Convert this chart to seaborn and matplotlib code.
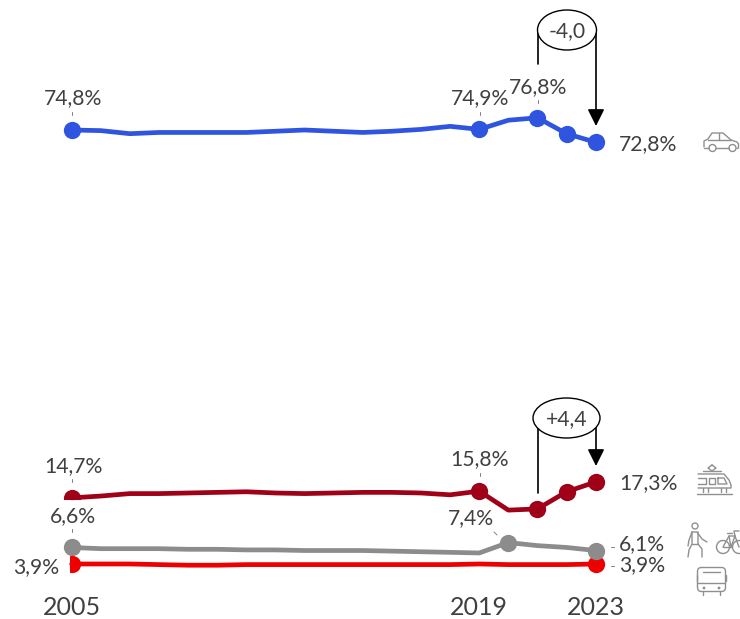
import numpy as np
import pandas as pd
import matplotlib
matplotlib.use('Agg')
import matplotlib.pyplot as plt
import matplotlib.patches as mpatches
from matplotlib.transforms import Affine2D
import seaborn as sns

years = list(range(2005, 2024))
car = [74.8, 74.7, 74.2, 74.4, 74.4, 74.4, 74.4, 74.6, 74.8, 74.6, 74.4, 74.6, 74.9, 75.4, 74.9, 76.4, 76.8, 74.2, 72.8]
rail = [14.7, 15.0, 15.4, 15.4, 15.5, 15.6, 15.7, 15.5, 15.4, 15.5, 15.6, 15.6, 15.5, 15.2, 15.8, 12.7, 12.9, 15.7, 17.3]
active = [6.6, 6.4, 6.4, 6.4, 6.3, 6.3, 6.2, 6.2, 6.1, 6.1, 6.1, 6.0, 5.9, 5.8, 5.7, 7.4, 6.9, 6.6, 6.1]
bus = [3.9, 3.9, 3.9, 3.8, 3.7, 3.7, 3.8, 3.8, 3.8, 3.8, 3.8, 3.8, 3.8, 3.8, 3.9, 3.8, 3.8, 3.8, 3.9]

series_names = ['car', 'rail', 'bus', 'active']
series_values = [car, rail, bus, active]
palette = {'car': '#2f55e0', 'rail': '#a00018', 'bus': '#ee0000', 'active': '#8c8c8c'}
marker_years = {'car': [2005, 2019, 2021, 2022, 2023],
                'rail': [2019, 2021, 2022, 2023],
                'bus': [2023],
                'active': [2005, 2020, 2023]}
tick_years = [2005, 2019, 2023]

TEXT = '#404040'
ICON = '#8f8f8f'

sns.set_theme(style='white')
plt.rcParams['font.family'] = ['Lato', 'DejaVu Sans']

df = pd.DataFrame({
    'year': years * len(series_names),
    'share': np.concatenate(series_values),
    'mode': np.repeat(series_names, len(years)),
})

fig = plt.figure(figsize=(7.4, 6.19), dpi=100)
ax = fig.add_axes([0, 29 / 619, 1, 590 / 619])

sns.lineplot(data=df, x='year', y='share', hue='mode', hue_order=series_names, palette=palette,
             estimator=None, linewidth=3.4, legend=False, ax=ax, zorder=3)

for name in series_names:
    sub = df[(df['mode'] == name) & (df['year'].isin(marker_years[name]))]
    sns.scatterplot(data=sub, x='year', y='share', color=palette[name], s=155, linewidth=0,
                    legend=False, ax=ax, zorder=4)

px_per_year = 29.11
ax.set_xlim(2005 - 71.7 / px_per_year, 2005 + (740 - 71.7) / px_per_year)
ax.set_ylim(-0.35, 96.04)
ax.set_xticks(tick_years)
ax.set_yticks([])
ax.set_xlabel('')
ax.set_ylabel('')
ax.tick_params(axis='x', length=0, labelsize=18, labelcolor=TEXT, pad=4)
sns.despine(ax=ax, left=True, bottom=True)
ax.patch.set_alpha(0)

# pixel coordinates from the top left, for everything that is not data
px = Affine2D().scale(1, -1).translate(0, 619)

# the two start markers are cut off in the reference
rail_start = ax.plot(years[0], rail[0], marker='o', ms=12.4, mew=0, color=palette['rail'], zorder=4)[0]
rail_start.set_clip_path(mpatches.Rectangle((0, 0), 740, 499.3, transform=px))
bus_start = ax.plot(years[0], bus[0], marker='o', ms=12.4, mew=0, color=palette['bus'], zorder=4)[0]
bus_start.set_clip_path(mpatches.Rectangle((70, 0), 670, 619, transform=px))


def label(x, y, s, ha='center', size=15.2):
    ax.text(x, y, s, transform=px, ha=ha, va='center', fontsize=size, color=TEXT, zorder=6)


def stroke(xs, ys, color=ICON, lw=1.0, zorder=5):
    ax.plot(xs, ys, transform=px, color=color, lw=lw, zorder=zorder, solid_capstyle='round',
            scalex=False, scaley=False, clip_on=False)


def circle(x, y, r, color=ICON, lw=1.0):
    ax.add_patch(mpatches.Circle((x, y), r, transform=px, fill=False, edgecolor=color, lw=lw, zorder=5,
                                 clip_on=False))


label(73, 98, '74,8%')
label(480, 98, '74,9%')
label(538, 87, '76,8%')
label(619, 144, '72,8%', ha='left')
label(73, 466, '14,7%')
label(480, 459, '15,8%')
label(619, 483, '17,3%', ha='left')
label(73, 516, '6,6%')
label(471, 518, '7,4%')
label(619, 544, '6,1%', ha='left')
label(619, 565, '3,9%', ha='left')
label(59, 567, '3,9%', ha='right')

# leader ticks
leaders = [((72, 72), (112, 115)), ((479.5, 479.5), (112, 115)), ((537.5, 537.5), (100, 103)),
           ((72, 72), (479, 482)), ((479.5, 479.5), (473, 476)), ((72, 72), (529, 532)),
           ((494, 497), (532, 535)), ((611, 614), (547, 547)), ((611, 614), (566, 566))]
for xs, ys in leaders:
    stroke(xs, ys, color='#7f7f7f', lw=0.7)


def change_callout(cx, cy, w, h, text, left_end, tip):
    stroke((537.5, 537.5), (cy, left_end), color='black', lw=1.2, zorder=7)
    ax.annotate('', xy=(596, tip), xytext=(596, cy), xycoords=px, textcoords=px, zorder=7,
                arrowprops=dict(arrowstyle='-|>,head_length=0.6,head_width=0.3', mutation_scale=17,
                                color='black', lw=1.2, shrinkA=0, shrinkB=0))
    ax.add_patch(mpatches.Ellipse((cx, cy), w, h, transform=px, facecolor='white', edgecolor='black',
                                  lw=1.0, zorder=8))
    ax.text(cx, cy + 1, text, transform=px, ha='center', va='center', fontsize=15.2, color=TEXT, zorder=9)


change_callout(567, 30, 59, 40, '-4,0', 64, 126)
change_callout(566.5, 418, 67, 40, '+4,4', 493, 466)

# car icon
stroke((704, 704, 708, 712, 723, 731, 737, 738.5, 738.5, 737),
       (147, 141, 139, 133, 133, 140, 142, 144, 148, 148.5))
stroke((708, 731), (140, 140))
stroke((719, 719), (133, 140))
stroke((704, 708.5), (148, 148))
stroke((716, 729), (148, 148))
circle(712.5, 148, 3.5)
circle(732.5, 148, 3.5)

# tram icon
stroke((712, 716, 712, 708, 712), (465, 468, 471, 468, 465))
stroke((703, 721), (470.5, 470.5))
stroke((698, 724, 729, 731, 731, 698), (474, 474, 480, 485, 488, 488))
stroke((698, 706, 706, 698), (478, 478, 484, 484))
stroke((709, 715, 715, 709, 709), (478, 478, 484, 484, 478))
stroke((718, 724, 727, 718, 718), (478, 478, 484, 484, 478))
stroke((697, 732), (494, 494))
for wx in (703, 708, 721, 726):
    stroke((wx, wx), (488, 492))

# walker icon
circle(695, 526, 3)
stroke((692, 689, 688), (532, 540, 546))
stroke((692, 697, 702, 707), (532, 532, 539, 542))
stroke((692, 692, 689, 688), (532, 544, 550, 557))
stroke((698, 698, 702, 702), (532, 544, 549, 557))
stroke((692, 698), (544, 544))

# bicycle icon, runs off the right edge in the reference
circle(723, 547, 6.5)
circle(739, 547, 6.5)
stroke((723, 729, 735, 739), (547, 536, 536, 547))
stroke((729, 731, 735), (536, 547, 536))
stroke((723, 731), (547, 547))
stroke((727, 732), (533, 533))
stroke((735, 734, 739), (536, 531, 531))

# bus icon
ax.add_patch(mpatches.FancyBboxPatch((699, 569), 25, 21, boxstyle='round,pad=1.5,rounding_size=4',
                                     transform=px, fill=False, edgecolor=ICON, lw=1.0, zorder=5,
                                     clip_on=False))
stroke((703, 720), (572, 572))
stroke((698, 725), (583, 583))
stroke((697, 697), (575, 581))
stroke((726, 726), (575, 581))
stroke((703, 703), (592, 595))
stroke((720, 720), (592, 595))
circle(704, 588, 0.7)
circle(719, 588, 0.7)

fig.savefig('out.png', dpi=100)
